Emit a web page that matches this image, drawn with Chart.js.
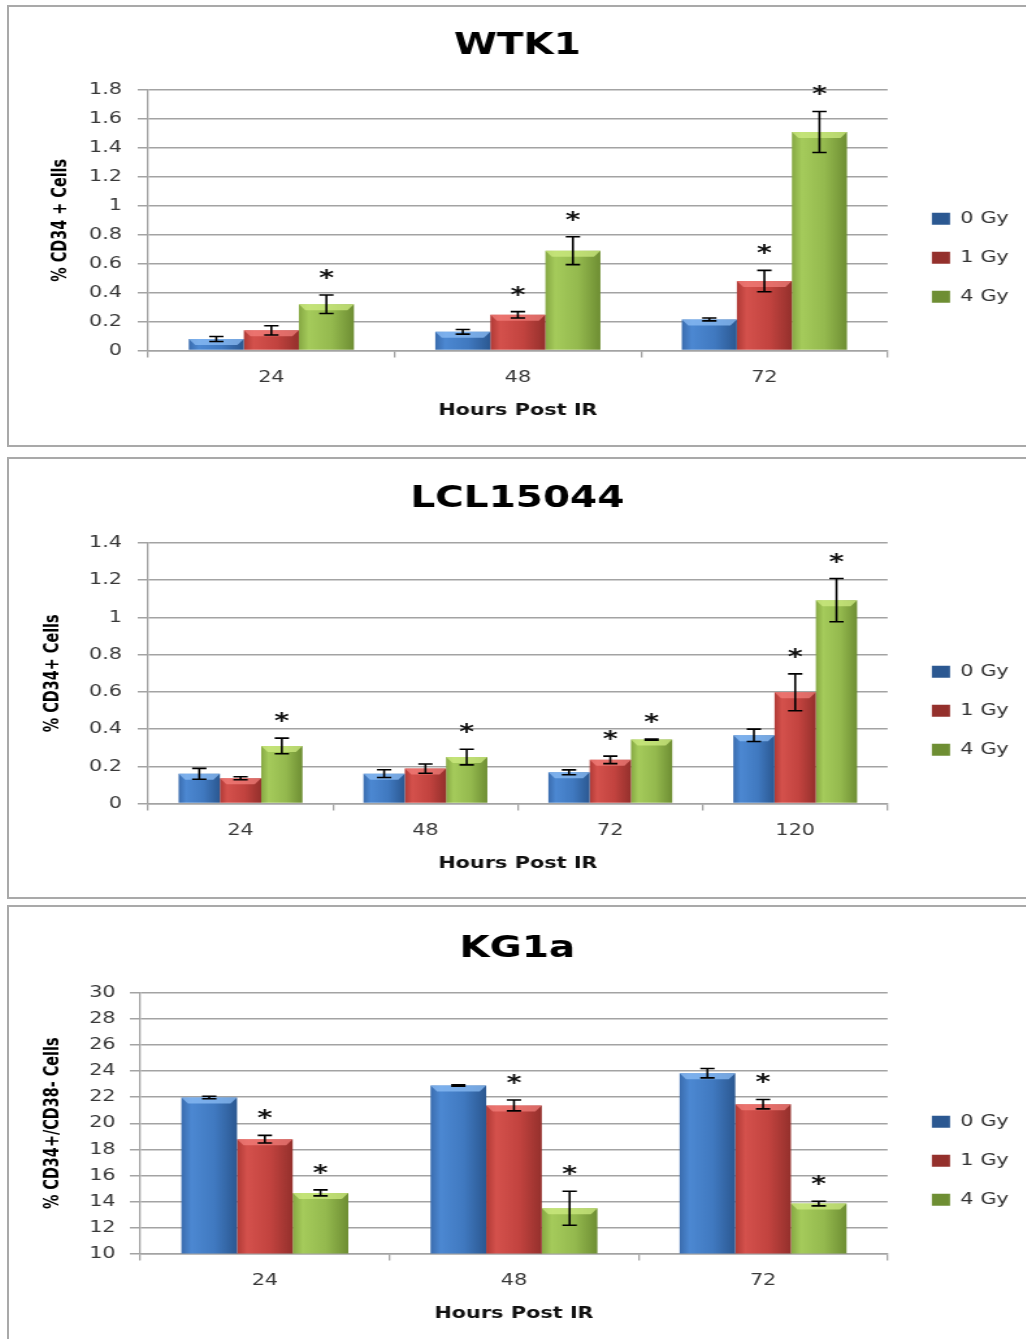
<!DOCTYPE html>
<html>
<head>
<meta charset="utf-8">
<title>CD34+ cells after IR</title>
<script src="https://cdn.jsdelivr.net/npm/chart.js@4.4.1/dist/chart.umd.min.js"></script>
<style>
  html, body { margin: 0; padding: 0; background: #fff; overflow: hidden; }
  body { width: 1026px; height: 1339px; position: relative; }
  .panel { position: absolute; left: 7px; width: 1100px; border: 2px solid #a9a9a9; box-sizing: border-box; }
  /* the original figure is stretched sideways, so the charts are too */
  .stretch { position: absolute; left: 9px; width: 782px; height: 437px; transform: scaleX(1.3); transform-origin: 0 0; }
</style>
</head>
<body>
<div class="panel" style="top:5px;height:442px"></div>
<div class="panel" style="top:457px;height:442px"></div>
<div class="panel" style="top:905px;height:470px"></div>
<div class="stretch" style="top:7px"><canvas id="WtkCanvas" width="782" height="437"></canvas></div>
<div class="stretch" style="top:460px"><canvas id="LclCanvas" width="782" height="437"></canvas></div>
<div class="stretch" style="top:910px"><canvas id="KgCanvas" width="782" height="437"></canvas></div>
<script>
// ---------------------------------------------------------------------------
// Data (mean, error, significance star)
// ---------------------------------------------------------------------------
const seriesNames = ['0 Gy', '1 Gy', '4 Gy']
const hours3 = ['24', '48', '72']
const hours4 = ['24', '48', '72', '120']

// WTK1
const wtkGy0 = [0.08, 0.13, 0.215]
const wtkGy1 = [0.14, 0.247, 0.48]
const wtkGy4 = [0.32, 0.69, 1.51]
const wtkErr0 = [0.017, 0.016, 0.01]
const wtkErr1 = [0.032, 0.022, 0.074]
const wtkErr4 = [0.064, 0.096, 0.142]
const wtkStar0 = [0, 0, 0]
const wtkStar1 = [0, 1, 1]
const wtkStar4 = [1, 1, 1]

// LCL15044
const lclGy0 = [0.16, 0.161, 0.168, 0.367]
const lclGy1 = [0.136, 0.188, 0.235, 0.598]
const lclGy4 = [0.31, 0.25, 0.344, 1.093]
const lclErr0 = [0.029, 0.021, 0.013, 0.033]
const lclErr1 = [0.008, 0.025, 0.02, 0.099]
const lclErr4 = [0.042, 0.042, 0.003, 0.116]
const lclStar0 = [0, 0, 0, 0]
const lclStar1 = [0, 0, 1, 1]
const lclStar4 = [1, 1, 1, 1]

// KG1a
const kgGy0 = [21.98, 22.9, 23.85]
const kgGy1 = [18.78, 21.37, 21.47]
const kgGy4 = [14.66, 13.48, 13.84]
const kgErr0 = [0.1, 0.05, 0.36]
const kgErr1 = [0.29, 0.42, 0.36]
const kgErr4 = [0.23, 1.3, 0.18]
const kgStar0 = [0, 0, 0]
const kgStar1 = [1, 1, 1]
const kgStar4 = [1, 1, 1]

// ---------------------------------------------------------------------------
const CAT_PCT = 0.67
const gridGray = '#a3a3a3'
const tickColor = '#383838'

// gradient stops: left edge, light, middle, right edge
const blueStops = ['#3a6cae', '#4c88d2', '#4079c0', '#2b5891']
const redStops = ['#b03a36', '#d4514c', '#c2433f', '#94302c']
const greenStops = ['#86a843', '#a5cb5b', '#94b94e', '#6e8e33']
const bevels = ['rgba(140,190,245,0.75)', 'rgba(245,130,125,0.7)', 'rgba(205,235,130,0.75)']
const legendColors = ['#4a7ebb', '#c0504d', '#9bbb59']

Chart.defaults.font.family = "'DejaVu Sans', Verdana, sans-serif"
Chart.defaults.animation = false

function barFill(stops, solid) {
    return function (c) {
        const chart = c.chart
        if (c.type !== 'data' || !chart.chartArea) return solid
        const xs = chart.scales.x
        const barW = xs.width / chart.data.labels.length * CAT_PCT / 3
        const cx = xs.getPixelForValue(c.dataIndex) + (c.datasetIndex - 1) * barW
        const g = chart.ctx.createLinearGradient(cx - barW / 2, 0, cx + barW / 2, 0)
        g.addColorStop(0, stops[0])
        g.addColorStop(0.18, stops[1])
        g.addColorStop(0.6, stops[2])
        g.addColorStop(1, stops[3])
        return g
    }
}

// bevel on the bar tops, error bars and the stars
const barDecor = {
    id: 'barDecor',
    afterDatasetsDraw(chart) {
        const ctx = chart.ctx
        const yScale = chart.scales.y
        chart.data.datasets.forEach((ds, i) => {
            const meta = chart.getDatasetMeta(i)
            meta.data.forEach((bar, j) => {
                const half = bar.width / 2
                ctx.save()
                ctx.fillStyle = bevels[i]
                ctx.beginPath()
                ctx.moveTo(bar.x - half, bar.y)
                ctx.lineTo(bar.x + half, bar.y)
                ctx.lineTo(bar.x + half - 5, bar.y + 6)
                ctx.lineTo(bar.x - half + 5, bar.y + 6)
                ctx.closePath()
                ctx.fill()

                const v = ds.data[j]
                const e = ds.errors[j]
                const top = yScale.getPixelForValue(v + e)
                const bot = yScale.getPixelForValue(v - e)
                ctx.strokeStyle = '#000'
                ctx.lineWidth = 1.6
                ctx.beginPath()
                ctx.moveTo(bar.x, top); ctx.lineTo(bar.x, bot)
                ctx.moveTo(bar.x - 5.5, top); ctx.lineTo(bar.x + 5.5, top)
                ctx.moveTo(bar.x - 5.5, bot); ctx.lineTo(bar.x + 5.5, bot)
                ctx.stroke()

                if (ds.stars[j]) {
                    ctx.fillStyle = '#111'
                    ctx.font = "bold 22px 'DejaVu Sans'"
                    ctx.textAlign = 'center'
                    ctx.textBaseline = 'alphabetic'
                    ctx.fillText('*', bar.x, top - 23 + 13)
                }
                ctx.restore()
            })
        })
    }
}

function makeChart(canvasId, title, labels, values, errors, stars, yOpts) {
    const stopsList = [blueStops, redStops, greenStops]
    const datasets = values.map((vals, i) => ({
        label: seriesNames[i],
        data: vals,
        errors: errors[i],
        stars: stars[i],
        backgroundColor: barFill(stopsList[i], legendColors[i]),
        borderWidth: 0,
        categoryPercentage: CAT_PCT,
        barPercentage: 1
    }))

    return new Chart(document.getElementById(canvasId), {
        type: 'bar',
        data: { labels: labels, datasets: datasets },
        plugins: [barDecor],
        options: {
            responsive: false,
            maintainAspectRatio: false,
            layout: { padding: { top: 0, right: 3, bottom: 0, left: 3 } },
            plugins: {
                tooltip: { enabled: false },
                title: {
                    display: true,
                    text: title,
                    color: '#000',
                    font: { size: 30, weight: 'bold' },
                    padding: { top: 21, bottom: 26 }
                },
                legend: {
                    position: 'right',
                    fullSize: false,
                    align: 'center',
                    title: { display: true, text: '', font: { size: 10 }, padding: { top: 63, bottom: 0 } },
                    labels: {
                        boxWidth: 14,
                        boxHeight: 12,
                        padding: 23,
                        color: '#333',
                        font: { size: 16 }
                    }
                }
            },
            scales: {
                x: {
                    grid: { display: true, drawOnChartArea: false, tickLength: 7, color: gridGray, lineWidth: 1.3, offset: true },
                    border: { display: true, color: gridGray, width: 1.5 },
                    ticks: { color: tickColor, font: { size: 16 }, padding: 11 },
                    title: {
                        display: true,
                        text: 'Hours Post IR',
                        color: '#111',
                        font: { size: 16, weight: 'bold' },
                        padding: { top: 2, bottom: 24 }
                    }
                },
                y: {
                    min: yOpts.min,
                    max: yOpts.max,
                    grid: { color: gridGray, lineWidth: 1.5, tickLength: 8 },
                    border: { display: true, color: gridGray, width: 1.3 },
                    ticks: {
                        stepSize: yOpts.step,
                        color: tickColor,
                        font: { size: 16 },
                        padding: yOpts.tickPad,
                        callback: v => String(Number(v.toFixed(2)))
                    },
                    title: {
                        display: true,
                        text: yOpts.title,
                        color: '#000',
                        font: { family: "'DejaVu Sans Condensed', 'DejaVu Sans', sans-serif", size: 16, weight: 'bold' },
                        padding: { top: yOpts.titlePad, bottom: 0 }
                    },
                    afterFit(scale) { scale.width = yOpts.axisW }
                },
                // empty spacer between the plot and the legend
                gap: {
                    position: 'right',
                    display: true,
                    grid: { display: false, drawTicks: false },
                    border: { display: false },
                    ticks: { display: false },
                    afterFit(scale) { scale.width = 11 }
                }
            }
        }
    })
}

makeChart('WtkCanvas', 'WTK1', hours3,
    [wtkGy0, wtkGy1, wtkGy4], [wtkErr0, wtkErr1, wtkErr4], [wtkStar0, wtkStar1, wtkStar4],
    { min: 0, max: 1.8, step: 0.2, title: '% CD34 + Cells', axisW: 104, titlePad: 27, tickPad: 12 })

makeChart('LclCanvas', 'LCL15044', hours4,
    [lclGy0, lclGy1, lclGy4], [lclErr0, lclErr1, lclErr4], [lclStar0, lclStar1, lclStar4],
    { min: 0, max: 1.4, step: 0.2, title: '% CD34+ Cells', axisW: 104, titlePad: 21, tickPad: 12 })

makeChart('KgCanvas', 'KG1a', hours3,
    [kgGy0, kgGy1, kgGy4], [kgErr0, kgErr1, kgErr4], [kgStar0, kgStar1, kgStar4],
    { min: 10, max: 30, step: 2, title: '% CD34+/CD38- Cells', axisW: 98, titlePad: 21, tickPad: 11 })
</script>
</body>
</html>
